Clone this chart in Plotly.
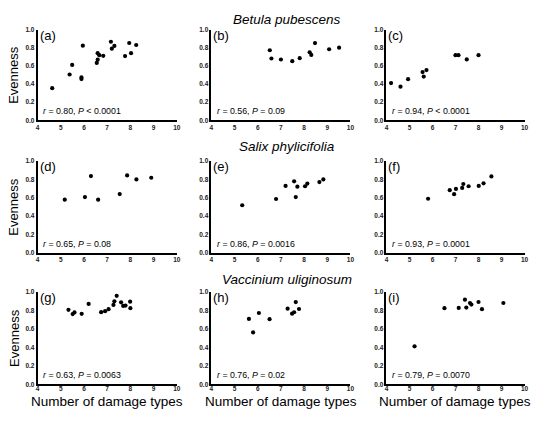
import plotly.graph_objects as go

# damage types (x) and evenness (y) read per panel
x_a = [4.63, 5.38, 5.49, 5.95, 5.89, 5.89, 6.55, 6.59, 6.59, 6.66, 6.83, 7.16, 7.20, 7.31, 7.77, 7.95, 8.03, 8.25]
y_a = [0.354, 0.505, 0.61, 0.823, 0.473, 0.455, 0.632, 0.668, 0.74, 0.718, 0.711, 0.866, 0.79, 0.82, 0.708, 0.852, 0.74, 0.83]

x_b = [6.52, 6.59, 7.00, 7.49, 7.81, 8.24, 8.31, 8.47, 9.08, 9.51]
y_b = [0.772, 0.681, 0.67, 0.652, 0.685, 0.75, 0.721, 0.851, 0.783, 0.80]

x_c = [4.20, 4.61, 4.94, 5.57, 5.62, 5.74, 7.00, 7.13, 7.49, 8.00]
y_c = [0.41, 0.371, 0.454, 0.532, 0.482, 0.554, 0.718, 0.718, 0.671, 0.718]

x_d = [5.17, 6.04, 6.30, 6.61, 7.54, 7.86, 8.26, 8.90]
y_d = [0.579, 0.607, 0.836, 0.579, 0.64, 0.843, 0.80, 0.818]

x_e = [5.33, 6.79, 7.20, 7.57, 7.64, 7.71, 8.04, 8.14, 8.66, 8.83]
y_e = [0.518, 0.586, 0.729, 0.779, 0.607, 0.721, 0.725, 0.754, 0.771, 0.80]

x_f = [5.81, 6.75, 6.94, 7.02, 7.29, 7.34, 7.57, 8.01, 8.22, 8.56]
y_f = [0.589, 0.682, 0.639, 0.696, 0.707, 0.75, 0.725, 0.729, 0.757, 0.832]

x_g = [5.33, 5.51, 5.59, 5.90, 6.20, 6.74, 6.91, 7.06, 7.27, 7.31, 7.41, 7.60, 7.69, 7.79, 7.99, 8.00]
y_g = [0.805, 0.759, 0.777, 0.762, 0.869, 0.78, 0.791, 0.812, 0.858, 0.897, 0.957, 0.887, 0.848, 0.851, 0.894, 0.823]

x_h = [5.62, 5.80, 6.05, 6.51, 7.29, 7.48, 7.57, 7.64, 7.78]
y_h = [0.707, 0.561, 0.771, 0.704, 0.818, 0.764, 0.779, 0.889, 0.814]

x_i = [5.22, 6.52, 7.14, 7.41, 7.47, 7.63, 7.69, 8.00, 8.15, 9.08]
y_i = [0.411, 0.823, 0.826, 0.915, 0.83, 0.879, 0.862, 0.89, 0.812, 0.879]

panel_x = [x_a, x_b, x_c, x_d, x_e, x_f, x_g, x_h, x_i]
panel_y = [y_a, y_b, y_c, y_d, y_e, y_f, y_g, y_h, y_i]
panel_labels = ["(a)", "(b)", "(c)", "(d)", "(e)", "(f)", "(g)", "(h)", "(i)"]
stats = [
    "<i>r</i> = 0.80, <i>P</i> &lt; 0.0001",
    "<i>r</i> = 0.56, <i>P</i> = 0.09",
    "<i>r</i> = 0.94, <i>P</i> &lt; 0.0001",
    "<i>r</i> = 0.65, <i>P</i> = 0.08",
    "<i>r</i> = 0.86, <i>P</i> = 0.0016",
    "<i>r</i> = 0.93, <i>P</i> = 0.0001",
    "<i>r</i> = 0.63, <i>P</i> = 0.0063",
    "<i>r</i> = 0.76, <i>P</i> = 0.02",
    "<i>r</i> = 0.79, <i>P</i> = 0.0070",
]
species = ["Betula pubescens", "Salix phylicifolia", "Vaccinium uliginosum"]
x_ticks = [4, 5, 6, 7, 8, 9, 10]
y_ticks = [0.0, 0.2, 0.4, 0.6, 0.8, 1.0]

W, H = 550, 421
col_px = [(36, 176.7), (211.7, 352.3), (388.7, 528.3)]
row_px = [(26, 118.3), (159.7, 253), (292.7, 386.7)]


def px_x(v):
    return v / W


def px_y(v):
    return 1 - v / H


fig = go.Figure()
annotations = []
FONT = "Arial"

for k in range(9):
    r, c = divmod(k, 3)
    n = "" if k == 0 else str(k + 1)
    xa, ya = "x" + n, "y" + n
    fig.add_trace(go.Scatter(
        x=panel_x[k], y=panel_y[k], mode="markers",
        marker=dict(color="black", size=4.2),
        xaxis=xa, yaxis=ya, showlegend=False, hoverinfo="skip"))
    axis_style = dict(showline=True, linecolor="black", linewidth=1.6,
                      showgrid=False, zeroline=False, ticks="",
                      tickfont=dict(family=FONT, size=6.5, color="#222",
                                    weight="bold"))
    fig.layout["xaxis" + n] = dict(
        axis_style, domain=[px_x(col_px[c][0]), px_x(col_px[c][1])],
        range=[4, 10], tickvals=x_ticks, anchor=ya,
        ticklabelstandoff=-3 if r == 2 else 0)
    fig.layout["yaxis" + n] = dict(
        axis_style, domain=[px_y(row_px[r][1]), px_y(row_px[r][0])],
        range=[0, 1], tickvals=y_ticks, tickformat=".1f", anchor=xa)

    annotations.append(dict(
        text=panel_labels[k], xref=xa + " domain", yref=ya + " domain",
        x=0.0, y=1.04, xanchor="left", yanchor="top", showarrow=False,
        font=dict(family=FONT, size=13, color="black")))
    annotations.append(dict(
        text=stats[k], xref=xa + " domain", yref=ya + " domain",
        x=0.025, y=0.1, xanchor="left", yanchor="middle", showarrow=False,
        font=dict(family=FONT, size=8.8, color="black")))

    if c == 0:
        annotations.append(dict(
            text="Evenness", xref="paper", yref="paper",
            x=px_x(12), y=px_y((row_px[r][0] + row_px[r][1]) / 2),
            xanchor="center", yanchor="middle", textangle=-90,
            showarrow=False, font=dict(family=FONT, size=13, color="black")))
    if r == 2:
        annotations.append(dict(
            text="Number of damage types", xref="paper", yref="paper",
            x=px_x((col_px[c][0] + col_px[c][1]) / 2), y=px_y(404),
            xanchor="center", yanchor="middle", showarrow=False,
            font=dict(family=FONT, size=13.5, color="black")))

species_y = [16, 145, 280]
for s, yy in zip(species, species_y):
    annotations.append(dict(
        text="<i>" + s + "</i>", xref="paper", yref="paper",
        x=px_x(288), y=px_y(yy), xanchor="center", yanchor="middle",
        showarrow=False, font=dict(family=FONT, size=13.5, color="black")))

fig.update_layout(
    width=W, height=H, margin=dict(l=0, r=0, t=0, b=0),
    plot_bgcolor="white", paper_bgcolor="white",
    annotations=annotations)

# drop the page's default body margin so the figure fills the window
fig.write_html("out.html", config={"displayModeBar": False},
               post_script="document.body.style.margin = '0px';")
